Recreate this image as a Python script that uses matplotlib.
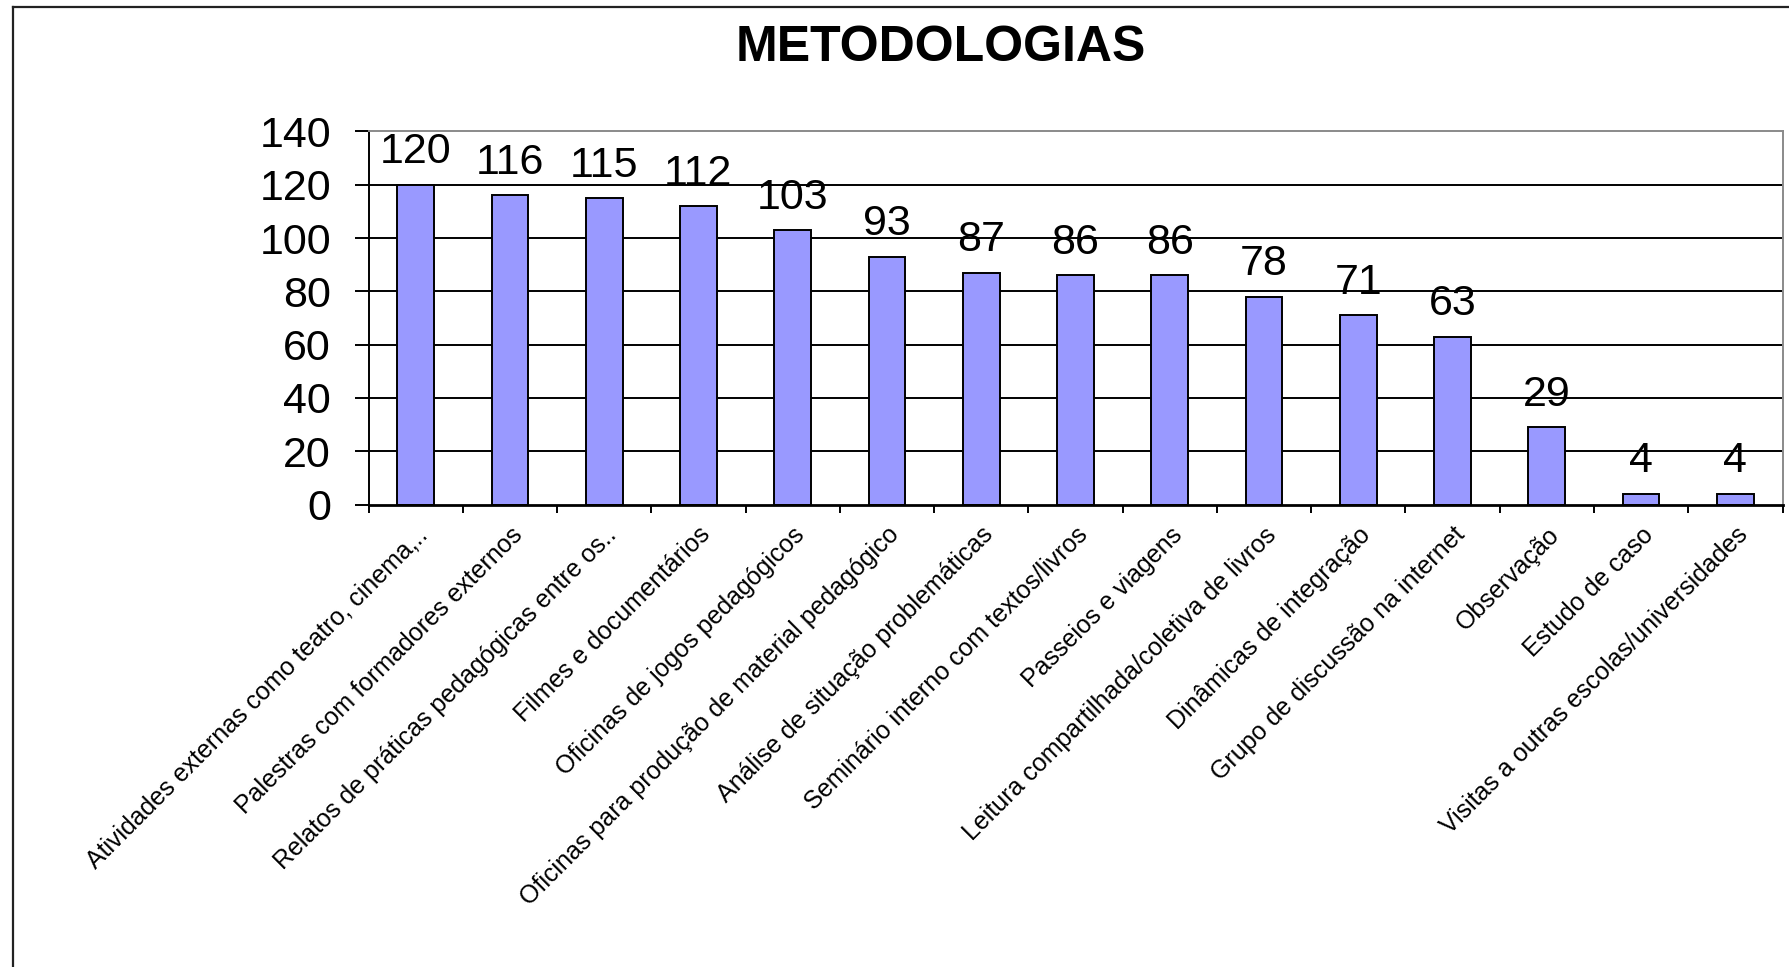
import matplotlib
matplotlib.use('Agg')
import matplotlib.pyplot as plt
from matplotlib.lines import Line2D
from matplotlib.ticker import FixedLocator

categories = [
    'Atividades externas como teatro, cinema,..',
    'Palestras com formadores externos',
    'Relatos de práticas pedagógicas entre os..',
    'Filmes e documentários',
    'Oficinas de jogos pedagógicos',
    'Oficinas para produção de material pedagógico',
    'Análise de situação problemáticas',
    'Seminário interno com textos/livros',
    'Passeios e viagens',
    'Leitura compartilhada/coletiva de livros',
    'Dinâmicas de integração',
    'Grupo de discussão na internet',
    'Observação',
    'Estudo de caso',
    'Visitas a outras escolas/universidades',
]
values = [120, 116, 115, 112, 103, 93, 87, 86, 86, 78, 71, 63, 29, 4, 4]
y_ticks = [0, 20, 40, 60, 80, 100, 120, 140]

plt.rcParams['font.family'] = ['Liberation Sans', 'DejaVu Sans']

W, H = 1789, 967
fig = plt.figure(figsize=(W / 100, H / 100), dpi=100)
fig.patch.set_facecolor('white')

# outer chart frame (only left and top visible in the crop)
fx = 13 / W
fy = 1 - 6.5 / H
fig.add_artist(Line2D([fx, fx], [0, fy], transform=fig.transFigure, color='#222222', lw=1.6))
fig.add_artist(Line2D([fx, 1], [fy, fy], transform=fig.transFigure, color='#222222', lw=1.6))

left, right = 368.5 / W, 1782.5 / W
top, bottom = 1 - 131.4 / H, 1 - 504.6 / H
ax = fig.add_axes([left, bottom, right - left, top - bottom])

x = list(range(len(categories)))
bars = ax.bar(x, values, width=0.39, color='#9999FF', edgecolor='black', linewidth=1.4, zorder=3)
ax.bar_label(bars, padding=9, fontsize=31)

ax.set_xlim(-0.5, len(categories) - 0.5)
ax.set_ylim(0, 140)
ax.set_yticks(y_ticks)
ax.set_yticklabels([str(v) for v in y_ticks], fontsize=31)
ax.tick_params(axis='y', length=10, width=1.4, direction='out', pad=17)

ax.set_xticks(x)
ax.set_xticklabels(categories, fontsize=18, rotation=45, ha='right', va='top',
                   rotation_mode='anchor')
ax.tick_params(axis='x', which='major', length=0, pad=13)
ax.xaxis.set_minor_locator(FixedLocator([i - 0.5 for i in range(len(categories) + 1)]))
ax.tick_params(axis='x', which='minor', length=6, width=1.4, direction='out')

for yv in y_ticks[1:-1]:
    ax.axhline(yv, color='black', lw=1.4, zorder=1)

ax.spines['left'].set_color('black')
ax.spines['left'].set_linewidth(1.4)
ax.spines['bottom'].set_color('black')
ax.spines['bottom'].set_linewidth(2)
ax.spines['bottom'].set_zorder(4)
for s in ('top', 'right'):
    ax.spines[s].set_color('#8a8a8a')
    ax.spines[s].set_linewidth(1.4)

fig.text(941 / W, 1 - 48 / H, 'METODOLOGIAS', ha='center', va='center',
         fontsize=36, fontweight='bold')

fig.savefig('out.png', dpi=100)
